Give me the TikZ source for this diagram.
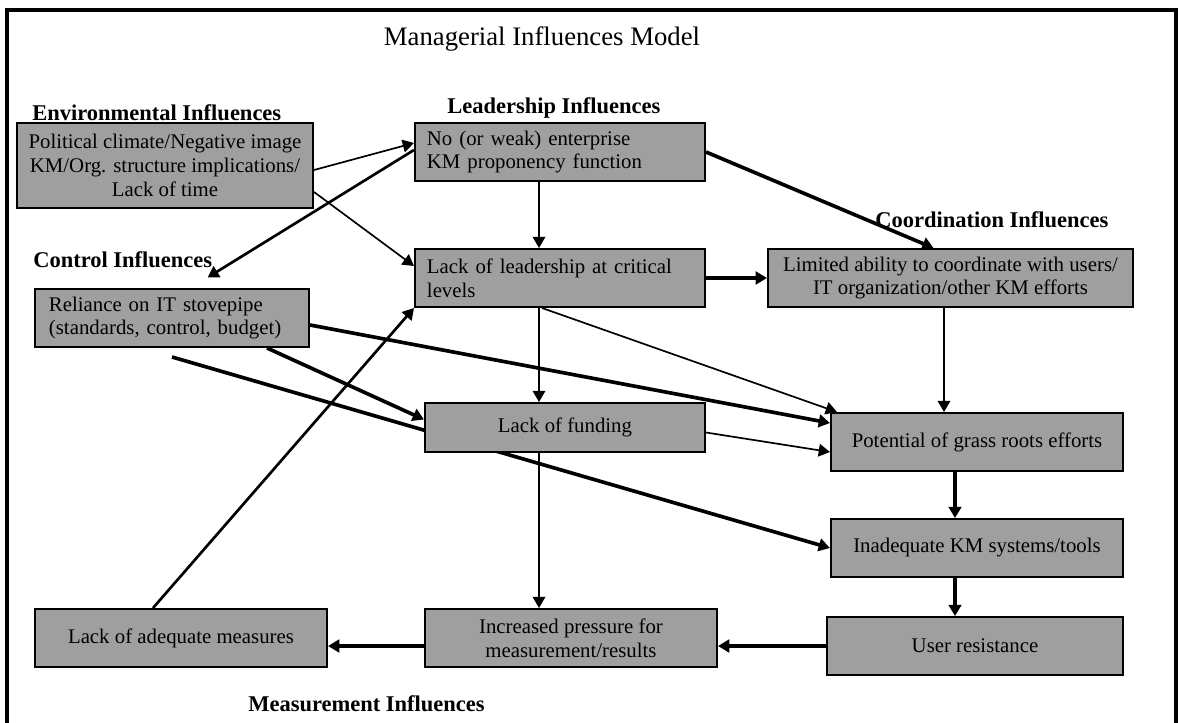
\documentclass[tikz,border=0pt]{standalone}
\usepackage{fontspec}
\setmainfont{Liberation Serif}
\usetikzlibrary{arrows.meta,calc,backgrounds}

\begin{document}
\begin{tikzpicture}[x=0.025cm,y=-0.025cm,>={Triangle[length=8pt,width=9pt]},
  box/.style={draw,line width=1.4pt,fill=gray!75,minimum height=1.45cm,inner sep=0pt,font=\fontsize{14.8}{17}\selectfont},
  lbl/.style={anchor=base west,inner sep=0pt,font=\fontsize{16}{18}\selectfont\bfseries},
  lnk/.style={->,line width=1.2pt},
  lnkmid/.style={->,line width=1.9pt},
  lnkbold/.style={->,line width=2.6pt}]
\useasboundingbox (0,0) rectangle (1178,723);
\draw[line width=2.2pt] (7,723) -- (7,10) -- (1176,10) -- (1176,723);
\node[anchor=base,inner sep=0pt,font=\fontsize{19}{22}\selectfont] (title) at (542,46) {Managerial Influences Model};
\node[lbl] (envlbl) at (32,120) {Environmental Influences};
\node[lbl] (leadlbl) at (447,113) {Leadership Influences};
\node[lbl] (coordlbl) at (875,227) {Coordination Influences};
\node[lbl] (ctrllbl) at (33,267) {Control Influences};
\node[lbl] (measlbl) at (248,711) {Measurement Influences};
\node[box,minimum width=7.4cm,minimum height=2.125cm,align=center] (env) at (165,165.5) {Political climate/Negative image\\KM/Org. structure implications/\\Lack of time};
\node[box,text width=6.65cm,inner xsep=0.3cm,align=left] (lead) at (560,152) {No (or weak) enterprise\\KM proponency function};
\node[box,text width=6.65cm,inner xsep=0.3cm,align=left] (lolead) at (560,278) {Lack of leadership at critical\\levels};
\node[box,minimum width=9.125cm,align=center] (coord) at (950.5,278) {Limited ability to coordinate with users/\\IT organization/other KM efforts};
\node[box,text width=6.15cm,inner xsep=0.35cm,align=left] (rely) at (172,318) {Reliance on IT stovepipe\\(standards, control, budget)};
\node[box,minimum width=7cm,minimum height=1.225cm] (fund) at (565,427.5) {Lack of funding};
\node[box,minimum width=7.3cm] (grass) at (977,442) {Potential of grass roots efforts};
\node[box,minimum width=7.3cm] (tools) at (977,548) {Inadequate KM systems/tools};
\node[box,minimum width=7.4cm] (resist) at (975,646) {User resistance};
\node[box,minimum width=7.3cm,align=center] (press) at (571,638) {Increased pressure for\\measurement/results};
\node[box,minimum width=7.3cm] (meas) at (181,638) {Lack of adequate measures};
\coordinate (colA) at (539,0);
\coordinate (colB) at (944,0);
\coordinate (colC) at (955,0);
\coordinate (start) at ($(rely.south)+(0,9)$);
\draw[lnk] ($(env.east)+(0,4.5)$) -- ($(lead.west)+(0,-9)$);
\draw[lnk] ($(env.east)+(0,26.5)$) -- ($(lolead.west)+(0,-12)$);
\draw[lnkmid] ($(lead.west)+(0,-2)$) -- ($(ctrllbl.south east)+(-5,10)$);
\draw[lnkbold] (lead.east) -- ($(coord.north)+(-17,0)$);
\draw[lnk] (lead.south -| colA) -- (lolead.north -| colA);
\draw[lnkbold] (lolead.east) -- (coord.west);
\draw[lnk] (lolead.south -| colA) -- (fund.north -| colA);
\draw[lnk] ($(lolead.south)+(-18,0)$) -- ($(grass.north west)+(7,0)$);
\draw[lnk] (coord.south -| colB) -- (grass.north -| colB);
\draw[lnkbold] ($(rely.east)+(0,7)$) -- ($(grass.west)+(0,-19)$);
\draw[lnkbold] ($(rely.south)+(95,0)$) -- ($(fund.west)+(0,-8)$);
\begin{pgfonlayer}{background}
\draw[lnkbold] (start) -- (tools.west);
\end{pgfonlayer}
\draw[lnk] ($(fund.east)+(0,5)$) -- ($(grass.west)+(0,10)$);
\draw[lnk] (fund.south -| colA) -- (press.north -| colA);
\draw[lnkbold] (grass.south -| colC) -- (tools.north -| colC);
\draw[lnkbold] (tools.south -| colC) -- (resist.north -| colC);
\draw[lnkbold] (resist.west) -- (press.east |- resist.west);
\draw[lnkbold] (press.west |- resist.west) -- (meas.east |- resist.west);
\draw[lnkmid] ($(meas.north)+(-28,0)$) -- (lolead.south west);
\end{tikzpicture}
\end{document}
